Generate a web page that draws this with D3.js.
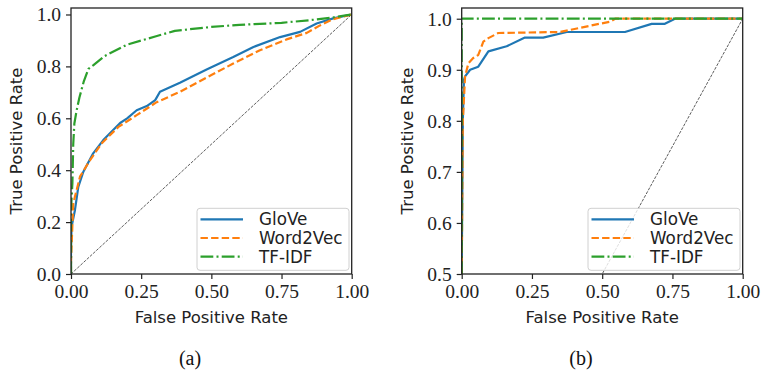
<!DOCTYPE html>
<html><head><meta charset="utf-8">
<script src="https://cdn.jsdelivr.net/npm/d3@7"></script>
<style>
html,body{margin:0;padding:0;background:#fff;}
svg{display:block;}
</style></head>
<body>
<svg id="chart" width="762" height="374"></svg>
<script>
// ---- Data ----
const seriesNames = ["GloVe", "Word2Vec", "TF-IDF"];
const seriesColors = ["#1f77b4", "#ff7f0e", "#2ca02c"];
const xTicks = [0.00, 0.25, 0.50, 0.75, 1.00];
const yTicksA = [0.0, 0.2, 0.4, 0.6, 0.8, 1.0];
const yTicksB = [0.5, 0.6, 0.7, 0.8, 0.9, 1.0];
const captions = ["(a)", "(b)"];

// Panel (a) ROC curves: [fpr, tpr]
const gloveA = [[0,0],[0,0.1],[0.002,0.182],[0.014,0.246],[0.026,0.336],[0.044,0.394],[0.079,0.465],[0.115,0.516],[0.175,0.582],[0.2,0.6],[0.234,0.631],[0.27,0.647],[0.3,0.67],[0.317,0.702],[0.388,0.737],[0.483,0.788],[0.578,0.836],[0.65,0.875],[0.745,0.913],[0.816,0.933],[0.875,0.965],[0.934,0.985],[1,1]];
const word2vecA = [[0,0],[0,0.05],[0.002,0.105],[0.008,0.272],[0.032,0.375],[0.068,0.439],[0.109,0.503],[0.169,0.567],[0.234,0.612],[0.305,0.662],[0.388,0.702],[0.483,0.757],[0.578,0.811],[0.673,0.862],[0.768,0.904],[0.84,0.929],[0.887,0.958],[0.934,0.982],[1,1]];
const tfidfA = [[0,0],[0,0.25],[0.005,0.35],[0.008,0.5],[0.012,0.58],[0.02,0.63],[0.03,0.68],[0.045,0.74],[0.062,0.79],[0.08,0.805],[0.12,0.84],[0.2,0.884],[0.3,0.915],[0.37,0.937],[0.5,0.952],[0.6,0.96],[0.75,0.968],[0.85,0.978],[0.93,0.988],[1,1]];

// Panel (b) ROC curves
const gloveB = [[0,0.5],[0.004,0.8],[0.008,0.88],[0.012,0.887],[0.03,0.9],[0.059,0.906],[0.095,0.936],[0.16,0.946],[0.225,0.963],[0.29,0.963],[0.374,0.974],[0.581,0.974],[0.676,0.99],[0.723,0.99],[0.759,1.0],[1,1]];
const word2vecB = [[0,0.5],[0.004,0.8],[0.012,0.887],[0.024,0.913],[0.041,0.923],[0.059,0.929],[0.077,0.955],[0.095,0.962],[0.13,0.972],[0.35,0.974],[0.42,0.982],[0.49,0.99],[0.528,0.994],[0.546,1.0],[1,1]];
const tfidfB = [[0,0.5],[0,1.0],[1,1]];

const diagonal = [[0,0],[1,1]];

// ---- Drawing ----
const svg = d3.select("#chart");
const dashes = [null, "7.4,3.2", "12.8,3.2,2,3.2"];
const serif = "'Liberation Serif', 'Times New Roman', serif";
const sans = "'DejaVu Sans', sans-serif";

const panels = [
  {x0: 71, x1: 351.7, yDomain: [0, 1.025], yTicks: yTicksA, yFmt: d3.format(".1f"),
   data: [gloveA, word2vecA, tfidfA], caption: captions[0], capX: 190, titleX: 22, legX: 197},
  {x0: 461.7, x1: 742.7, yDomain: [0.5, 1.021], yTicks: yTicksB, yFmt: d3.format(".1f"),
   data: [gloveB, word2vecB, tfidfB], caption: captions[1], capX: 581, titleX: 413, legX: 588}
];
const plotTop = 8, plotBottom = 274;

panels.forEach((p, pi) => {
  const x = d3.scaleLinear().domain([0, 1]).range([p.x0, p.x1]);
  const y = d3.scaleLinear().domain(p.yDomain).range([plotBottom, plotTop]);
  const g = svg.append("g");

  const clipId = "clip" + pi;
  svg.append("clipPath").attr("id", clipId).append("rect")
    .attr("x", p.x0).attr("y", plotTop).attr("width", p.x1 - p.x0).attr("height", plotBottom - plotTop);

  const line = d3.line().x(d => x(d[0])).y(d => y(d[1]));
  const plot = g.append("g").attr("clip-path", `url(#${clipId})`);

  plot.append("path").datum(diagonal).attr("d", line)
    .attr("fill", "none").attr("stroke", "#333").attr("stroke-width", 0.8)
    .attr("stroke-dasharray", "3,1.3");

  p.data.forEach((s, i) => {
    plot.append("path").datum(s).attr("d", line)
      .attr("fill", "none").attr("stroke", seriesColors[i]).attr("stroke-width", 2.2)
      .attr("stroke-linejoin", "round")
      .attr("stroke-dasharray", dashes[i]);
  });

  const xAxis = d3.axisBottom(x).tickValues(xTicks).tickFormat(d3.format(".2f")).tickSize(5).tickPadding(4);
  const yAxis = d3.axisLeft(y).tickValues(p.yTicks).tickFormat(p.yFmt).tickSize(5).tickPadding(5);
  const gx = g.append("g").attr("transform", `translate(0,${plotBottom})`).call(xAxis);
  const gy = g.append("g").attr("transform", `translate(${p.x0},0)`).call(yAxis);
  [gx, gy].forEach(a => {
    a.select(".domain").remove();
    a.selectAll(".tick line").attr("stroke", "#222").attr("stroke-width", 1.2);
    a.selectAll(".tick text").attr("font-family", serif).attr("font-size", 19.5).attr("fill", "#222");
  });
  gx.selectAll(".tick text").attr("dy", "0.78em");
  gy.selectAll(".tick text").attr("dy", "0.33em");

  g.append("rect").attr("x", p.x0).attr("y", plotTop).attr("width", p.x1 - p.x0).attr("height", plotBottom - plotTop)
    .attr("fill", "none").attr("stroke", "#222").attr("stroke-width", 1.3);

  g.append("text").attr("x", (p.x0 + p.x1) / 2).attr("y", 323).attr("text-anchor", "middle")
    .attr("font-family", sans).attr("font-size", 16.5).attr("fill", "#222").text("False Positive Rate");
  g.append("text").attr("transform", `translate(${p.titleX},${(plotTop + plotBottom) / 2}) rotate(-90)`)
    .attr("text-anchor", "middle").attr("font-family", sans).attr("font-size", 16.5).attr("fill", "#222")
    .text("True Positive Rate");

  const lg = g.append("g").attr("transform", `translate(${p.legX},208.3)`);
  lg.append("rect").attr("width", 152).attr("height", 62).attr("rx", 3)
    .attr("fill", "#fff").attr("fill-opacity", 0.8).attr("stroke", "#d0d0d0").attr("stroke-width", 1);
  seriesNames.forEach((n, i) => {
    const yy = 11 + i * 18.7;
    lg.append("line").attr("x1", 3.5).attr("x2", 46).attr("y1", yy).attr("y2", yy)
      .attr("stroke", seriesColors[i]).attr("stroke-width", 2.2).attr("stroke-dasharray", dashes[i]);
    lg.append("text").attr("x", 62).attr("y", yy).attr("dy", "0.36em")
      .attr("font-family", sans).attr("font-size", 16.8).attr("fill", "#222").text(n);
  });

  g.append("text").attr("x", p.capX).attr("y", 365).attr("text-anchor", "middle")
    .attr("font-family", serif).attr("font-size", 20).attr("fill", "#111").text(p.caption);
});
</script>
</body></html>
